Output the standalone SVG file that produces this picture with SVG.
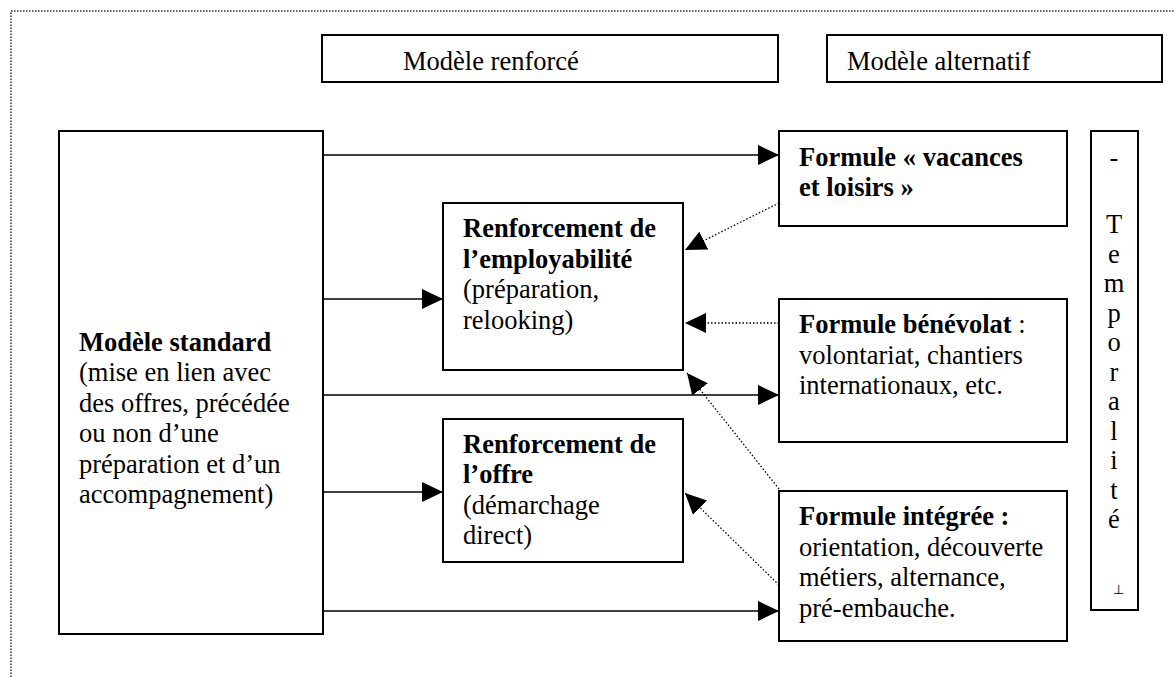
<svg xmlns="http://www.w3.org/2000/svg" width="1174" height="677" viewBox="0 0 1174 677">
<style>
.box{fill:#fff;stroke:#000;stroke-width:2}
.t{font-family:"Liberation Serif","Times New Roman",serif;font-size:26.5px;fill:#000}
.b{font-weight:bold}
.solid{stroke:#000;stroke-width:1.5;fill:none}
.dot{stroke:#000;stroke-width:1.3;fill:none;stroke-dasharray:1.5 2}
.frame{stroke:#333;stroke-width:1.5;fill:none;stroke-dasharray:1.5 1.5}
</style>
<defs>
<marker id="ah" markerUnits="userSpaceOnUse" markerWidth="21" markerHeight="20" refX="21" refY="10" orient="auto" viewBox="0 0 21 20">
<path d="M0,0 L21,10 L0,20 Z" fill="#000"/>
</marker>
</defs>
<rect width="1174" height="677" fill="#fff"/>
<g id="frame">
<path class="frame" d="M11,677 V11 H1174"/>
</g>
<g id="modele-renforce">
<rect class="box" x="322" y="35" width="456" height="47"/>
<text class="t" x="403" y="70">Modèle renforcé</text>
</g>
<g id="modele-alternatif">
<rect class="box" x="827" y="35" width="335" height="47"/>
<text class="t" x="847" y="70">Modèle alternatif</text>
</g>
<g id="modele-standard">
<rect class="box" x="59" y="131" width="264" height="503"/>
<text class="t" x="79" y="350.5"><tspan class="b">Modèle standard</tspan><tspan x="79" dy="30.5">(mise en lien avec</tspan><tspan x="79" dy="30.5">des offres, précédée</tspan><tspan x="79" dy="30.5">ou non d’une</tspan><tspan x="79" dy="30.5">préparation et d’un</tspan><tspan x="79" dy="30.5">accompagnement)</tspan></text>
</g>
<g id="renforcement-employabilite">
<rect class="box" x="443" y="203" width="240" height="167"/>
<text class="t" x="463" y="237"><tspan class="b">Renforcement de</tspan><tspan x="463" dy="30.5" class="b">l’employabilité</tspan><tspan x="463" dy="30.5">(préparation,</tspan><tspan x="463" dy="30.5">relooking)</tspan></text>
</g>
<g id="renforcement-offre">
<rect class="box" x="443" y="419" width="240" height="143"/>
<text class="t" x="463" y="452.5"><tspan class="b">Renforcement de</tspan><tspan x="463" dy="30.5" class="b">l’offre</tspan><tspan x="463" dy="30.5">(démarchage</tspan><tspan x="463" dy="30.5">direct)</tspan></text>
</g>
<g id="formule-vacances">
<rect class="box" x="779" y="131" width="288" height="95"/>
<text class="t b" x="799" y="165.5">Formule « vacances<tspan x="799" dy="30.5">et loisirs »</tspan></text>
</g>
<g id="formule-benevolat">
<rect class="box" x="779" y="299" width="288" height="143"/>
<text class="t" x="799" y="333"><tspan class="b">Formule bénévolat</tspan> :<tspan x="799" dy="30.5">volontariat, chantiers</tspan><tspan x="799" dy="30.5">internationaux, etc.</tspan></text>
</g>
<g id="formule-integree">
<rect class="box" x="779" y="491" width="288" height="150"/>
<text class="t" x="799" y="525"><tspan class="b">Formule intégrée :</tspan><tspan x="799" dy="30.5">orientation, découverte</tspan><tspan x="799" dy="30.5">métiers, alternance,</tspan><tspan x="799" dy="30.5">pré-embauche.</tspan></text>
</g>
<g id="temporalite">
<rect class="box" x="1091" y="131" width="47" height="479"/>
<g class="t" text-anchor="middle">
<text x="1114" y="166">-</text>
<text x="1114" y="233">T</text>
<text x="1114" y="262.5">e</text>
<text x="1114" y="292">m</text>
<text x="1114" y="321.5">p</text>
<text x="1114" y="351">o</text>
<text x="1114" y="380.5">r</text>
<text x="1114" y="410">a</text>
<text x="1114" y="439.5">l</text>
<text x="1114" y="469">i</text>
<text x="1114" y="498.5">t</text>
<text x="1114" y="528">é</text>
<text x="1118" y="594" style="font-size:13px">⊥</text>
</g>
</g>
<g id="connectors">
<line class="solid" x1="323" y1="155" x2="779" y2="155" marker-end="url(#ah)"/>
<line class="solid" x1="323" y1="299" x2="443" y2="299" marker-end="url(#ah)"/>
<line class="solid" x1="323" y1="395" x2="779" y2="395" marker-end="url(#ah)"/>
<line class="solid" x1="323" y1="492" x2="443" y2="492" marker-end="url(#ah)"/>
<line class="solid" x1="323" y1="611" x2="779" y2="611" marker-end="url(#ah)"/>
<line class="dot" x1="779" y1="203" x2="685" y2="250" marker-end="url(#ah)"/>
<line class="dot" x1="779" y1="323" x2="685" y2="323" marker-end="url(#ah)"/>
<line class="dot" x1="779" y1="489" x2="687" y2="373" marker-end="url(#ah)"/>
<line class="dot" x1="779" y1="585" x2="685" y2="493" marker-end="url(#ah)"/>
</g>
</svg>
